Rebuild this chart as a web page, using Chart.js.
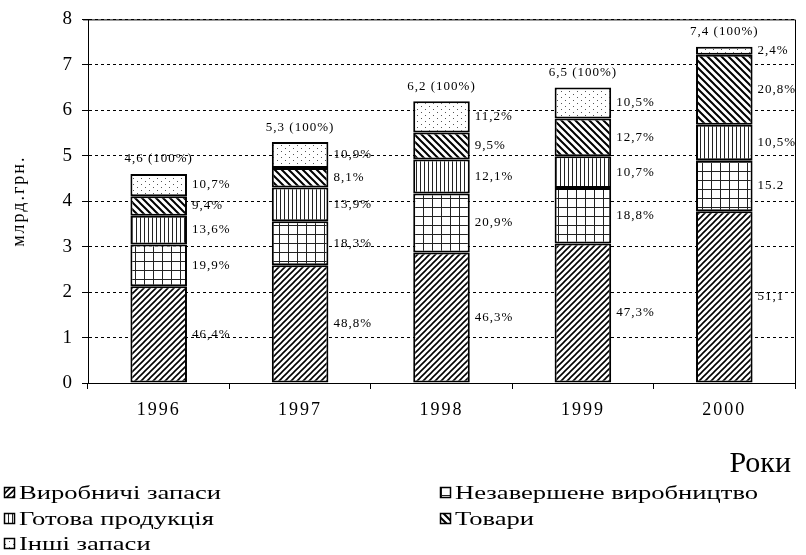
<!DOCTYPE html>
<html>
<head>
<meta charset="utf-8">
<script src="https://cdn.jsdelivr.net/npm/chart.js@4"></script>
<style>
  html, body { margin: 0; padding: 0; background: #fff; }
</style>
</head>
<body>
<canvas id="chart" width="806" height="555"></canvas>
<script>
// дані: млрд. грн. за роками
const years = ['1996', '1997', '1998', '1999', '2000'];
const seriesNames = ['Виробничі запаси', 'Незавершене виробництво', 'Готова продукція', 'Товари', 'Інші запаси'];
const vyrobnychi = [2.13, 2.59, 2.87, 3.07, 3.78];
const nezaversheni = [0.92, 0.97, 1.30, 1.22, 1.12];
const gotova = [0.63, 0.74, 0.75, 0.70, 0.78];
const tovary = [0.43, 0.43, 0.59, 0.83, 1.54];
const inshi = [0.49, 0.57, 0.69, 0.68, 0.18];
const totals = [4.6, 5.3, 6.2, 6.5, 7.4];
const pctVyrob = ['46,4%', '48,8%', '46,3%', '47,3%', '51,1'];
const pctNezav = ['19,9%', '18,3%', '20,9%', '18,8%', '15.2'];
const pctGotova = ['13,6%', '13,9%', '12,1%', '10,7%', '10,5%'];
const pctTovary = ['9,4%', '8,1%', '9,5%', '12,7%', '20,8%'];
const pctInshi = ['10,7%', '10,9%', '11,2%', '10,5%', '2,4%'];
const yMax = 8;

const canvas = document.getElementById('chart');
const ctx = canvas.getContext('2d');
const SERIF = '"Liberation Serif", "Times New Roman", serif';

function makePattern(w, h, draw) {
  const c = document.createElement('canvas');
  c.width = w;
  c.height = h;
  const g = c.getContext('2d');
  g.fillStyle = '#fff';
  g.fillRect(0, 0, w, h);
  g.strokeStyle = '#000';
  g.fillStyle = '#000';
  draw(g, w, h);
  return ctx.createPattern(c, 'repeat');
}

const patterns = [
  // ////
  makePattern(6, 6, (g, w, h) => {
    g.lineWidth = 1.6;
    g.beginPath();
    g.moveTo(-1, 1); g.lineTo(1, -1);
    g.moveTo(0, h); g.lineTo(w, 0);
    g.moveTo(w - 1, h + 1); g.lineTo(w + 1, h - 1);
    g.stroke();
  }),
  // сітка
  makePattern(9, 9, (g) => {
    g.fillStyle = '#222';
    g.fillRect(0, 0, 9, 1);
    g.fillRect(0, 0, 1, 9);
  }),
  // вертикальні лінії
  makePattern(4, 1, (g) => {
    g.fillStyle = '#222';
    g.fillRect(0, 0, 1, 1);
  }),
  // \\\\
  makePattern(7, 7, (g, w, h) => {
    g.lineWidth = 2;
    g.beginPath();
    g.moveTo(-1, h - 1); g.lineTo(1, h + 1);
    g.moveTo(0, 0); g.lineTo(w, h);
    g.moveTo(w - 1, -1); g.lineTo(w + 1, 1);
    g.stroke();
  }),
  // крапки
  makePattern(8, 6, (g) => {
    g.fillStyle = '#555';
    g.fillRect(1, 1, 1, 1);
    g.fillRect(5, 4, 1, 1);
  })
];

const seriesValues = [vyrobnychi, nezaversheni, gotova, tovary, inshi];
const seriesPct = [pctVyrob, pctNezav, pctGotova, pctTovary, pctInshi];

const spacing = {
  id: 'spacing',
  beforeDraw(chart) { chart.ctx.letterSpacing = '2px'; },
  afterDraw(chart) { chart.ctx.letterSpacing = '0px'; }
};

const frame = {
  id: 'frame',
  beforeDatasetsDraw(chart) {
    const a = chart.chartArea;
    const c = chart.ctx;
    c.save();
    c.letterSpacing = '0px';
    c.strokeStyle = '#000';
    c.lineWidth = 1;
    c.beginPath();
    c.moveTo(a.left - 5, a.top + 0.5);
    c.lineTo(a.right + 0.5, a.top + 0.5);
    c.lineTo(a.right + 0.5, a.bottom + 6);
    c.stroke();
    c.restore();
  }
};

const barLabels = {
  id: 'barLabels',
  afterDatasetsDraw(chart) {
    const c = chart.ctx;
    c.save();
    c.letterSpacing = '1px';
    c.fillStyle = '#000';
    c.font = '13px ' + SERIF;
    c.textBaseline = 'middle';
    chart.data.datasets.forEach((ds, i) => {
      const meta = chart.getDatasetMeta(i);
      meta.data.forEach((bar, j) => {
        const p = bar.getProps(['x', 'y', 'base', 'width'], true);
        c.textAlign = 'left';
        c.fillText(seriesPct[i][j], p.x + p.width / 2 + 5, (p.y + p.base) / 2);
        if (i === chart.data.datasets.length - 1) {
          c.textAlign = 'center';
          c.fillText(totals[j].toFixed(1).replace('.', ',') + ' (100%)', p.x, p.y - 15);
        }
      });
    });
    c.restore();
  }
};

const legendBox = {
  id: 'legendBox',
  afterDraw(chart) {
    const c = chart.ctx;
    c.save();
    c.letterSpacing = '0px';
    c.fillStyle = '#000';
    c.font = '30px ' + SERIF;
    c.textAlign = 'right';
    c.textBaseline = 'alphabetic';
    c.fillText('Роки', 791, 472);

    const slots = [[4, 493], [440, 493], [4, 519], [440, 519], [4, 544]];
    seriesNames.forEach((name, i) => {
      const [x, y] = slots[i];
      c.fillStyle = patterns[i];
      c.fillRect(x, y - 6, 11, 11);
      c.strokeStyle = '#000';
      c.lineWidth = 1.5;
      c.strokeRect(x + 0.5, y - 5.5, 10, 10);
      c.save();
      c.translate(x + 15, y);
      c.scale(1.4, 1);
      c.fillStyle = '#000';
      c.font = '19px ' + SERIF;
      c.textAlign = 'left';
      c.textBaseline = 'middle';
      c.fillText(name, 0, 1);
      c.restore();
    });
    c.restore();
  }
};

new Chart(ctx, {
  type: 'bar',
  data: {
    labels: years,
    datasets: seriesNames.map((name, i) => ({
      label: name,
      data: seriesValues[i],
      backgroundColor: patterns[i],
      borderColor: '#000',
      borderWidth: 2,
      borderSkipped: false,
      barPercentage: 0.4,
      categoryPercentage: 1.0
    }))
  },
  options: {
    responsive: false,
    animation: false,
    layout: { padding: { left: 0, top: 18, right: 11, bottom: 132 } },
    plugins: {
      legend: { display: false },
      tooltip: { enabled: false }
    },
    scales: {
      x: {
        stacked: true,
        afterFit(scale) { scale.height = 40; },
        grid: { drawOnChartArea: false, color: '#000', tickLength: 6 },
        border: { color: '#000', width: 1 },
        ticks: { color: '#000', font: { family: SERIF, size: 18 }, padding: 10, maxRotation: 0 }
      },
      y: {
        stacked: true,
        min: 0,
        max: yMax,
        afterFit(scale) { scale.width = 88; },
        grid: { color: '#000', lineWidth: 1, tickLength: 6 },
        border: { color: '#000', width: 1, dash: [3, 3] },
        ticks: { stepSize: 1, color: '#000', font: { family: SERIF, size: 19 }, padding: 8 },
        title: {
          display: true,
          text: 'млрд.грн.',
          color: '#000',
          font: { family: SERIF, size: 18 },
          padding: { top: 8, bottom: 0 }
        }
      }
    }
  },
  plugins: [spacing, frame, barLabels, legendBox]
});
</script>
</body>
</html>
